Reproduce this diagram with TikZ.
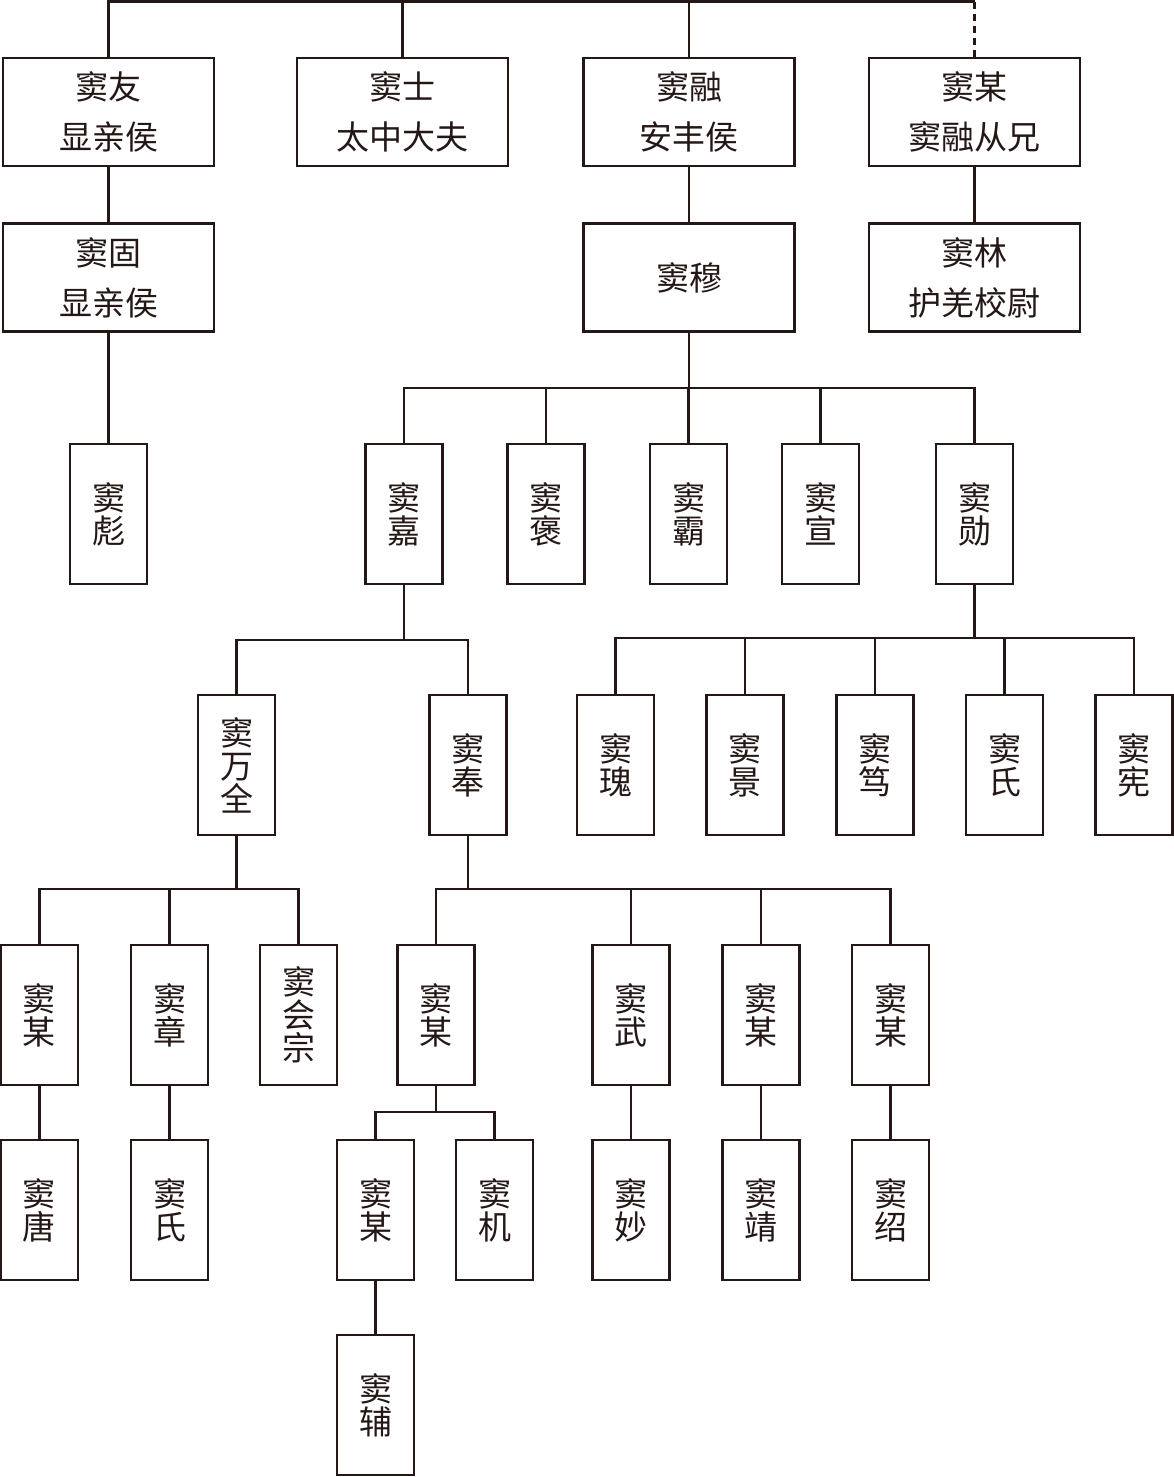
\documentclass[tikz,border=0pt]{standalone}
\usepackage{fontspec}
\newfontfamily\cjk{Noto Sans CJK SC}
\usetikzlibrary{positioning}
\definecolor{ink}{RGB}{35,24,21}

\begin{document}
\begin{tikzpicture}[x=1pt,y=-1pt,
    wide/.style = {draw=ink, text=ink, line width=2.6pt, minimum width=211pt, minimum height=108pt, inner sep=0pt, align=center, font=\cjk\fontsize{33}{50}\selectfont},
    tall/.style = {draw=ink, text=ink, line width=2.6pt, minimum width=77pt, minimum height=140pt, inner sep=0pt, align=center, font=\cjk\fontsize{33}{33}\selectfont},
    link/.style = {draw=ink, line width=2.4pt}]
    \useasboundingbox (0,0) rectangle (1174,1477);
    % first generation
    \node [wide] (you)  at (108.5,112) {窦友\\显亲侯};
    \node [wide] (shi)  at (402.5,112) {窦士\\太中大夫};
    \node [wide] (rong) at (689,112)   {窦融\\安丰侯};
    \node [wide] (mou)  at (974.5,112) {窦某\\窦融从兄};
    \node [wide] (gu)   at (108.5,277.5) {窦固\\显亲侯};
    \node [wide] (mu)   at (689,277.5)   {窦穆};
    \node [wide] (lin)  at (974.5,277.5) {窦林\\护羌校尉};
    % third generation
    \node [tall] (biao) at (108.5,514) {窦\\彪};
    \node [tall] (jia)  at (404,514)   {窦\\嘉};
    \node [tall] (bao)  at (546,514)   {窦\\褒};
    \node [tall] (ba)   at (688.5,514) {窦\\霸};
    \node [tall] (xuan) at (820.5,514) {窦\\宣};
    \node [tall] (xun)  at (974.5,514) {窦\\勋};
    % fourth generation
    \node [tall] (wanquan) at (236.5,765) {窦\\万\\全};
    \node [tall] (feng)    at (468,765)   {窦\\奉};
    \node [tall] (gui)     at (615.5,765) {窦\\瑰};
    \node [tall] (jingA)   at (745,765)   {窦\\景};
    \node [tall] (du)      at (875,765)   {窦\\笃};
    \node [tall] (shiA)    at (1004.5,765) {窦\\氏};
    \node [tall] (xian)    at (1134,765)  {窦\\宪};
    % fifth generation
    \node [tall] (mouA)    at (39.5,1015)  {窦\\某};
    \node [tall] (zhang)   at (169.5,1015) {窦\\章};
    \node [tall] (huizong) at (298.5,1015) {窦\\会\\宗};
    \node [tall] (mouB)    at (436,1015)   {窦\\某};
    \node [tall] (wu)      at (631,1015)   {窦\\武};
    \node [tall] (mouC)    at (761,1015)   {窦\\某};
    \node [tall] (mouD)    at (890.5,1015) {窦\\某};
    % sixth and seventh generation
    \node [tall] (tang)  at (39.5,1210)  {窦\\唐};
    \node [tall] (shiB)  at (169.5,1210) {窦\\氏};
    \node [tall] (mouE)  at (375.5,1210) {窦\\某};
    \node [tall] (ji)    at (494.5,1210) {窦\\机};
    \node [tall] (miao)  at (631,1210)   {窦\\妙};
    \node [tall] (jingB) at (761,1210)   {窦\\靖};
    \node [tall] (shao)  at (890.5,1210) {窦\\绍};
    \node [tall] (fu)    at (375.5,1405) {窦\\辅};
    % bus lines
    \coordinate (top) at (0,2);
    \coordinate (busmu) at (0,388);
    \coordinate (busjia) at (0,640);
    \coordinate (busxun) at (0,638);
    \coordinate (buswq) at (0,889);
    \coordinate (busmb) at (0,1112);
    \draw [link, line width=3pt] (you.north) |- (top -| mou.north);
    \draw [link] (shi.north) -- (shi.north |- top);
    \draw [link] (rong.north) -- (rong.north |- top);
    \draw [link, dashed, dash pattern=on 7pt off 5pt] (mou.north) -- (mou.north |- top);
    \draw [link] (you) -- (gu);
    \draw [link] (gu) -- (biao);
    \draw [link] (rong) -- (mu);
    \draw [link] (mou) -- (lin);
    \draw [link] (mu.south) -- (mu.south |- busmu);
    \draw [link] (jia.north) |- (busmu -| xun.north) -- (xun.north);
    \foreach \n in {bao,ba,xuan} \draw [link] (\n.north) -- (\n.north |- busmu);
    \draw [link] (jia.south) -- (jia.south |- busjia);
    \draw [link] (wanquan.north) |- (busjia -| feng.north) -- (feng.north);
    \draw [link] (xun.south) -- (xun.south |- busxun);
    \draw [link] (gui.north) |- (busxun -| xian.north) -- (xian.north);
    \foreach \n in {jingA,du,shiA} \draw [link] (\n.north) -- (\n.north |- busxun);
    \draw [link] (wanquan.south) -- (wanquan.south |- buswq);
    \draw [link] (mouA.north) |- (buswq -| huizong.north) -- (huizong.north);
    \draw [link] (zhang.north) -- (zhang.north |- buswq);
    \draw [link] (feng.south) -- (feng.south |- buswq);
    \draw [link] (mouB.north) |- (buswq -| mouD.north) -- (mouD.north);
    \foreach \n in {wu,mouC} \draw [link] (\n.north) -- (\n.north |- buswq);
    \draw [link] (mouB.south) -- (mouB.south |- busmb);
    \draw [link] (mouE.north) |- (busmb -| ji.north) -- (ji.north);
    \draw [link] (mouA) -- (tang);
    \draw [link] (zhang) -- (shiB);
    \draw [link] (mouE) -- (fu);
    \draw [link] (wu) -- (miao);
    \draw [link] (mouC) -- (jingB);
    \draw [link] (mouD) -- (shao);
\end{tikzpicture}
\end{document}
